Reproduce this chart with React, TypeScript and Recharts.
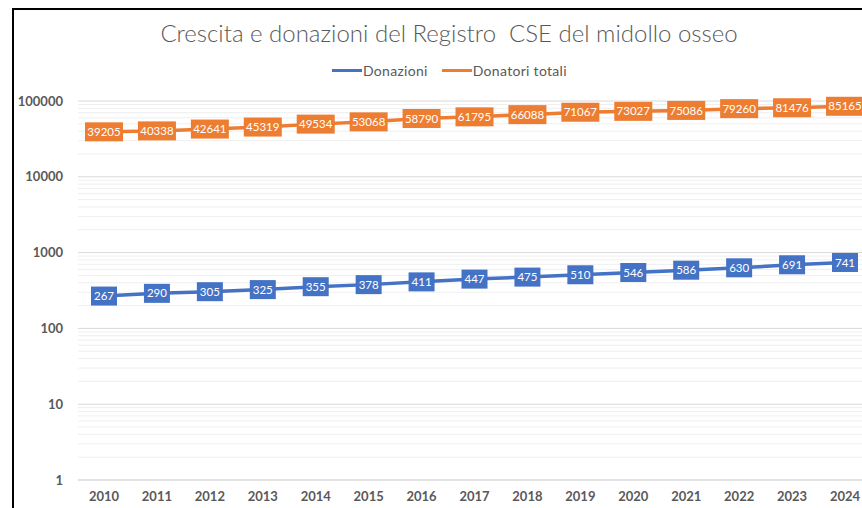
import { LineChart, Line, XAxis, YAxis, CartesianGrid, LabelList } from "recharts";

const years = ["2010", "2011", "2012", "2013", "2014", "2015", "2016", "2017", "2018", "2019", "2020", "2021", "2022", "2023", "2024"];
const donazioni = [267, 290, 305, 325, 355, 378, 411, 447, 475, 510, 546, 586, 630, 691, 741];
const donatoriTotali = [39205, 40338, 42641, 45319, 49534, 53068, 58790, 61795, 66088, 71067, 73027, 75086, 79260, 81476, 85165];
const majorTicks = [1, 10, 100, 1000, 10000, 100000];
const minorTicks = [2, 3, 4, 5, 6, 7, 8, 9];

const data = years.map((year, i) => ({
  year,
  donazioni: donazioni[i],
  donatori: donatoriTotali[i],
}));

const minorValues = majorTicks.slice(0, -1).flatMap((m) => minorTicks.map((k) => m * k));

const BLUE = "#4472C4";
const ORANGE = "#ED7D31";
const TEXT = "#595959";
const FONT = "Lato, 'Open Sans', sans-serif";

// recharts hands the grid generator either a plain d3 scale or a wrapper object
function applyScale(scale: any, v: number): number | undefined {
  if (!scale) return undefined;
  if (typeof scale === "function") return scale(v);
  if (typeof scale.map === "function") return scale.map(v);
  if (typeof scale.apply === "function") return scale.apply(v);
  return undefined;
}

function minorGenerator({ yAxis }: any) {
  if (!yAxis) return [];
  const out: number[] = [];
  for (const v of minorValues) {
    const y = applyScale(yAxis.scale, v);
    if (typeof y === "number" && !Number.isNaN(y)) out.push(y);
  }
  return out;
}

function boxLabel(color: string) {
  return (props: any) => {
    const { x, y, value } = props;
    const w = String(value).length * 6 + 8;
    return (
      <g>
        <rect x={x - w / 2} y={y - 9.5} width={w} height={19} fill={color} />
        <text x={x} y={y} dy="0.36em" textAnchor="middle" fill="#fff" fontSize={11.5} fontFamily={FONT}>
          {value}
        </text>
      </g>
    );
  };
}

export default function App() {
  return (
    <div
      style={{
        position: "fixed",
        left: 0,
        top: 0,
        width: 862,
        height: 508,
        overflow: "hidden",
        background: "#fff",
        fontFamily: FONT,
      }}
    >
      <div
        style={{
          position: "absolute",
          left: 12,
          top: 8,
          width: 900,
          height: 600,
          borderLeft: "2px solid #000",
          borderTop: "2px solid #000",
        }}
      />
      <div
        style={{
          position: "absolute",
          left: 0,
          width: 898,
          top: 18,
          textAlign: "center",
          fontSize: 24,
          fontWeight: 300,
          color: TEXT,
          whiteSpace: "pre",
        }}
      >
        Crescita e donazioni del Registro  CSE del midollo osseo
      </div>
      <div
        style={{
          position: "absolute",
          left: 332,
          top: 62,
          display: "flex",
          alignItems: "center",
          fontSize: 14,
          letterSpacing: 0.3,
          color: TEXT,
        }}
      >
        <span style={{ width: 30, height: 3, background: BLUE, display: "inline-block" }} />
        <span style={{ marginLeft: 1 }}>Donazioni</span>
        <span style={{ width: 30, height: 3, background: ORANGE, display: "inline-block", marginLeft: 14 }} />
        <span style={{ marginLeft: 1 }}>Donatori totali</span>
      </div>
      <div style={{ position: "absolute", left: 0, top: 0 }}>
        <LineChart width={890} height={520} data={data} margin={{ top: 101, right: 19, left: 18, bottom: 10 }}>
          <CartesianGrid vertical={false} stroke="#efefef" horizontalCoordinatesGenerator={minorGenerator} />
          <CartesianGrid vertical={false} stroke="#d9d9d9" />
          <XAxis
            dataKey="year"
            padding={{ left: 26, right: 26 }}
            axisLine={{ stroke: "#d9d9d9" }}
            tickLine={false}
            tickMargin={6}
            height={30}
            interval={0}
            tick={{ fill: TEXT, fontSize: 13, fontWeight: 700, fontFamily: FONT }}
          />
          <YAxis
            scale="log"
            domain={[1, 100000]}
            ticks={majorTicks}
            allowDataOverflow
            axisLine={false}
            tickLine={false}
            tickMargin={9}
            width={60}
            tick={{ fill: TEXT, fontSize: 13, fontWeight: 700, fontFamily: FONT }}
          />
          <Line
            type="linear"
            dataKey="donazioni"
            stroke={BLUE}
            strokeWidth={3.5}
            dot={false}
            isAnimationActive={false}
          >
            <LabelList dataKey="donazioni" content={boxLabel(BLUE)} />
          </Line>
          <Line
            type="linear"
            dataKey="donatori"
            stroke={ORANGE}
            strokeWidth={3.5}
            dot={false}
            isAnimationActive={false}
          >
            <LabelList dataKey="donatori" content={boxLabel(ORANGE)} />
          </Line>
        </LineChart>
      </div>
    </div>
  );
}
